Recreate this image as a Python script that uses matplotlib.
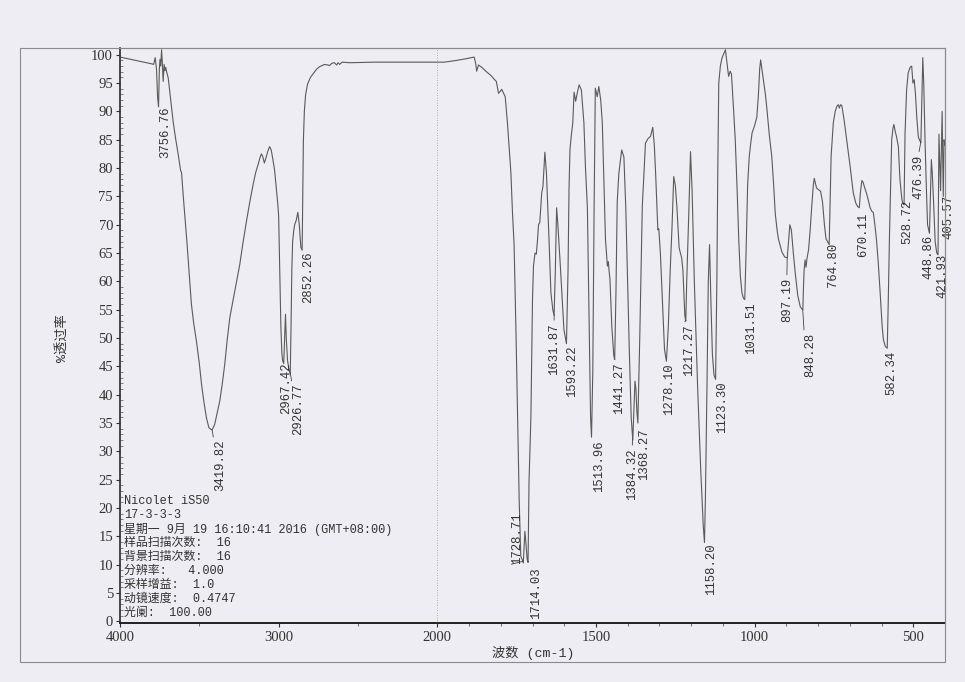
import numpy as np
import matplotlib
matplotlib.use("Agg")
import matplotlib.pyplot as plt
from matplotlib.patches import Rectangle
from matplotlib.ticker import FixedLocator, FixedFormatter

# FT-IR spectrum (Nicolet iS50)
wavenumber = [
    4000, 3950, 3900, 3850, 3800, 3788, 3778, 3770, 3763, 3757, 3752, 3748, 3743, 3738, 3733,
    3728, 3722, 3717, 3712, 3706, 3696, 3680, 3665, 3650, 3633, 3618, 3612, 3602, 3590, 3577,
    3563, 3550, 3535, 3518, 3500, 3486, 3470, 3455, 3440, 3428, 3420, 3410, 3403, 3390, 3371,
    3355, 3340, 3325, 3308, 3292, 3277, 3260, 3245, 3225, 3203, 3182, 3161, 3145, 3130, 3118,
    3109, 3100, 3090, 3080, 3068, 3057, 3047, 3036, 3025, 3015, 3005, 3000, 2993, 2986, 2980,
    2975, 2968, 2962, 2957, 2952, 2944, 2935, 2927, 2922, 2917, 2912, 2905, 2899, 2889, 2879,
    2870, 2860, 2852, 2848, 2844, 2838, 2830, 2818, 2800, 2784, 2760, 2742, 2711, 2690, 2679,
    2665, 2648, 2635, 2625, 2616, 2600, 2550, 2400, 2200, 2000, 1978, 1940, 1910, 1884, 1879,
    1876, 1870, 1860, 1847, 1830, 1821, 1814, 1807, 1801, 1797, 1791, 1786, 1779, 1774, 1768,
    1763, 1758, 1752, 1747, 1742, 1737, 1732, 1729, 1726, 1724, 1721, 1717, 1714, 1711, 1705,
    1700, 1697, 1692, 1688, 1684, 1681, 1677, 1671, 1667, 1661, 1656, 1648, 1642, 1636, 1632,
    1628, 1624, 1620, 1611, 1601, 1593, 1588, 1585, 1582, 1578, 1573, 1569, 1564, 1558, 1553,
    1546, 1538, 1533, 1527, 1521, 1517, 1514, 1510, 1506, 1502, 1496, 1491, 1485, 1480, 1475,
    1470, 1464, 1461, 1459, 1456, 1450, 1444, 1441, 1437, 1433, 1428, 1419, 1412, 1406, 1401,
    1395, 1389, 1384, 1380, 1377, 1374, 1371, 1368, 1362, 1357, 1354, 1348, 1344, 1336, 1328,
    1321, 1316, 1312, 1305, 1302, 1297, 1292, 1284, 1278, 1272, 1266, 1260, 1255, 1250, 1245,
    1238, 1234, 1230, 1226, 1220, 1217, 1214, 1208, 1202, 1197, 1190, 1180, 1170, 1162, 1158,
    1155, 1150, 1146, 1142, 1138, 1133, 1128, 1123, 1119, 1116, 1113, 1108, 1103, 1097, 1092,
    1087, 1082, 1077, 1073, 1067, 1061, 1055, 1050, 1045, 1040, 1035, 1031, 1027, 1022, 1017,
    1012, 1008, 1000, 993, 988, 984, 981, 977, 972, 966, 961, 954, 946, 940, 935,
    929, 925, 914, 905, 900, 897, 893, 889, 884, 878, 872, 864, 856, 852, 848,
    846, 844, 841, 838, 835, 830, 825, 820, 815, 812, 809, 805, 799, 792, 786,
    780, 775, 768, 765, 762, 759, 752, 746, 741, 736, 733, 729, 725, 718, 710,
    699, 689, 681, 675, 670, 667, 662, 658, 653, 647, 642, 636, 631, 626, 621,
    616, 610, 605, 598, 594, 588, 582, 579, 575, 571, 568, 564, 561, 557, 553,
    547, 542, 536, 533, 529, 526, 521, 516, 510, 505, 501, 497, 493, 489, 484,
    479, 476, 473, 470, 467, 463, 459, 455, 449, 446, 443, 440, 436, 431, 426,
    422, 419, 416, 414, 411, 409, 407, 405.5, 403, 400,
]
transmittance = [
    99.6, 99.3, 99.0, 98.7, 98.4, 98.3, 99.5, 97.5, 92.5, 90.8, 97.5, 99.2, 98.0, 100.9, 98.5,
    95.3, 98.3, 97.2, 97.8, 97.0, 95.9, 92.0, 88.2, 85.3, 82.4, 79.6, 79.2, 75.3, 71.0, 66.5,
    61.0, 56.0, 52.5, 49.4, 45.5, 41.8, 38.5, 35.9, 34.2, 33.9, 33.8, 34.3, 34.8, 36.5, 38.9,
    42.0, 45.3, 49.5, 53.6, 56.0, 58.3, 60.8, 63.0, 66.8, 70.6, 74.0, 77.1, 79.2, 80.6, 81.8,
    82.5, 82.0, 80.9, 81.8, 83.0, 83.8, 83.2, 81.5, 79.5, 76.5, 73.5, 71.5, 62.0, 52.0, 47.5,
    46.0, 45.5, 50.0, 54.2, 50.0, 46.0, 44.5, 43.5, 52.0, 62.0, 67.0, 69.0, 70.0, 70.8, 72.2,
    70.0, 66.0, 65.5, 75.0, 85.0, 90.0, 93.0, 94.8, 96.0, 96.6, 97.5, 97.9, 98.3, 98.2, 98.1,
    98.5, 98.6, 98.2, 98.6, 98.3, 98.7, 98.6, 98.7, 98.7, 98.7, 98.7, 99.0, 99.3, 99.6, 98.5,
    97.1, 98.2, 97.8, 97.1, 96.3, 95.7, 95.3, 93.2, 93.6, 93.9, 93.2, 92.6, 88.0, 84.0, 79.1,
    72.0, 66.5, 50.9, 36.2, 21.5, 11.5, 10.8, 10.3, 13.5, 15.9, 14.0, 11.0, 10.4, 24.5, 36.2,
    56.8, 62.7, 65.0, 64.8, 67.5, 70.0, 70.4, 75.6, 76.8, 82.8, 79.1, 67.4, 58.0, 55.0, 54.0,
    62.0, 73.0, 70.0, 61.5, 51.5, 49.0, 62.0, 76.0, 83.2, 85.6, 88.0, 93.4, 91.8, 93.5, 94.7,
    93.8, 88.0, 80.0, 73.0, 50.0, 36.0, 32.5, 44.0, 72.0, 94.1, 92.6, 94.4, 92.0, 88.0, 78.0,
    67.4, 62.7, 63.5, 62.0, 60.5, 52.0, 47.0, 46.2, 58.0, 74.0, 79.0, 83.2, 82.0, 73.0, 61.5,
    48.0, 36.0, 32.0, 38.0, 42.4, 41.0, 37.0, 35.0, 50.0, 65.0, 73.2, 80.0, 84.4, 85.2, 85.6,
    87.2, 84.0, 79.1, 69.1, 69.3, 65.0, 58.6, 48.0, 45.9, 52.0, 62.0, 70.0, 78.5, 77.0, 73.2,
    66.0, 65.0, 64.2, 62.0, 54.0, 53.0, 60.0, 71.0, 82.9, 76.0, 60.0, 42.0, 27.0, 17.0, 13.9,
    22.0, 42.0, 60.0, 66.5, 57.0, 47.0, 43.5, 42.7, 60.0, 80.0, 95.0, 98.0, 99.4, 100.2, 100.9,
    98.5, 96.2, 97.1, 96.6, 91.0, 85.0, 76.0, 67.4, 61.0, 58.0, 57.0, 56.8, 65.0, 77.0, 82.0,
    84.5, 86.2, 87.5, 89.0, 93.0, 97.5, 99.1, 97.5, 95.6, 93.0, 90.3, 86.0, 82.1, 77.0, 72.0,
    69.0, 67.5, 65.2, 64.3, 64.2, 64.2, 67.0, 70.0, 69.0, 65.0, 61.5, 57.5, 55.5, 55.2, 55.0,
    59.0, 62.0, 63.8, 62.5, 64.0, 65.6, 69.0, 73.2, 77.0, 78.2, 77.5, 76.5, 76.2, 75.9, 74.0,
    70.0, 67.5, 66.8, 66.5, 74.0, 82.0, 88.0, 90.0, 90.9, 91.2, 90.6, 91.2, 91.0, 88.5, 85.0,
    80.3, 75.6, 73.8, 73.2, 73.0, 75.5, 77.8, 77.5, 76.5, 75.5, 74.4, 73.0, 72.4, 72.2, 70.0,
    67.4, 63.0, 58.6, 52.0, 49.7, 48.5, 48.2, 56.0, 68.0, 78.0, 85.0, 87.0, 87.7, 86.5, 85.6,
    83.8, 78.0, 74.5, 73.8, 73.5, 86.0, 93.8, 96.8, 97.8, 98.0, 95.0, 95.6, 93.0, 89.0, 85.5,
    84.8, 84.5, 92.0, 99.5, 95.0, 85.0, 77.0, 70.0, 68.5, 75.0, 81.5, 79.0, 74.0, 67.0, 65.0,
    64.7, 86.0, 80.0, 76.0, 84.0, 90.0, 82.0, 75.0, 85.0, 84.0,
]

# peak picks printed under the curve
peak_wn = [3756.76, 3419.82, 2967.42, 2926.77, 2852.26, 1728.71, 1714.03, 1631.87,
           1593.22, 1513.96, 1441.27, 1384.32, 1368.27, 1278.10, 1217.27, 1158.20,
           1123.30, 1031.51, 897.19, 848.28, 764.80, 670.11, 582.34, 528.72,
           476.39, 448.86, 421.93, 405.57]

# instrument info block, lower left corner of the print
info_lines = [
    "Nicolet iS50",
    "17-3-3-3",
    "星期一 9月 19 16:10:41 2016 (GMT+08:00)",
    "样品扫描次数:  16",
    "背景扫描次数:  16",
    "分辨率:   4.000",
    "采样增益:  1.0",
    "动镜速度:  0.4747",
    "光阑:  100.00",
]

x_ticks = [4000, 3000, 2000, 1500, 1000, 500]
y_ticks = list(range(0, 101, 5))
x_label = "波数 (cm-1)"
y_label = "%透过率"


# Nicolet style x axis: 2000-400 is drawn at twice the scale of 4000-2000
def fwd(x):
    x = np.asarray(x, dtype=float)
    return np.where(x >= 2000, x, 2 * x - 2000)


def inv(u):
    u = np.asarray(u, dtype=float)
    return np.where(u >= 2000, u, (u + 2000) / 2)


paper = "#ededf3"
ink = "#5a5a5a"
mono = ["Liberation Mono", "Noto Sans CJK SC"]
serif = "Liberation Serif"
W, H = 965, 682

fig = plt.figure(figsize=(W / 100, H / 100), dpi=100)
fig.patch.set_facecolor(paper)

# axes box in pixels of the print: x 120..945, y 48..623
ax = fig.add_axes([120 / W, 1 - 623 / H, 825 / W, 575 / H])
ax.set_facecolor(paper)
ax.set_xscale("function", functions=(fwd, inv))
ax.set_xlim(4000, 400)
ax.set_ylim(-0.3, 101.2)

ax.plot(wavenumber, transmittance, color=ink, lw=0.8)
ax.axvline(2000, color="#9a9a9a", lw=0.6, ls=(0, (1, 2)))

# ticks
ax.xaxis.set_major_locator(FixedLocator(x_ticks))
ax.xaxis.set_major_formatter(FixedFormatter([str(t) for t in x_ticks]))
minor_x = [3500, 2500] + [v for v in range(1900, 400, -100) if v not in x_ticks]
ax.xaxis.set_minor_locator(FixedLocator(minor_x))
ax.yaxis.set_major_locator(FixedLocator(y_ticks))
ax.yaxis.set_major_formatter(FixedFormatter([str(t) for t in y_ticks]))
ax.yaxis.set_minor_locator(FixedLocator([v for v in range(0, 101) if v % 5]))

ax.tick_params(axis="both", which="major", direction="out", length=3, width=0.8,
               color="#333333", labelsize=10.5, labelcolor="#333333")
ax.tick_params(axis="x", which="major", pad=3)
ax.tick_params(axis="y", which="major", pad=2)
ax.tick_params(axis="x", which="minor", direction="out", length=2, width=0.6, color="#555555")
ax.tick_params(axis="y", which="minor", direction="in", length=2, width=0.5, color="#555555")
for lab in ax.get_xticklabels() + ax.get_yticklabels():
    lab.set_fontfamily(serif)

ax.spines["left"].set_color("#2a2a2a")
ax.spines["left"].set_linewidth(1.2)
ax.spines["bottom"].set_color("#222222")
ax.spines["bottom"].set_linewidth(1.4)
for side in ["top", "right"]:
    ax.spines[side].set_color("#8a8a8a")
    ax.spines[side].set_linewidth(0.8)

# outer frame of the print
fig.patches.append(Rectangle((20 / W, 1 - 662 / H), 925 / W, 614 / H, transform=fig.transFigure,
                             fill=False, ec="#8a8a8a", lw=0.8, zorder=0))

# peak labels: offset of the label (px right, px down) from the minimum, leader yes/no
label_layout = {
    3756.76: (6.4, 1, False), 3419.82: (7.8, 10, True), 2967.42: (2.5, 1, False),
    2926.77: (7.7, 11, True), 2852.26: (5.8, 1, False), 1714.03: (7.8, 5, False),
    1631.87: (0, 9, True), 1593.22: (5.9, 2.5, False), 1513.96: (7.4, 4, False),
    1441.27: (4.3, 3, False), 1384.32: (-0.5, 9.4, True), 1368.27: (6.1, 6.4, False),
    1278.10: (2.4, 2, False), 1217.27: (3.1, 4, True), 1158.20: (7, 2, False),
    1123.30: (6.5, 2, False), 1031.51: (6.7, 3, False), 897.19: (-0.4, 20, True),
    848.28: (7.4, 23, True), 764.80: (4.2, 1, False), 670.11: (4.1, 5, False),
    582.34: (4.5, 3, False), 528.72: (3.1, 1, False), 476.39: (-2.2, 12, True),
    448.86: (-0.9, 3, True), 421.93: (4, 2, False), 405.57: (5, 0, False),
}
wn_asc = np.array(wavenumber)[::-1]
t_asc = np.array(transmittance)[::-1]
peak_t = np.interp(peak_wn, wn_asc, t_asc)
px2pt = 72 / 100

for wn, t in zip(peak_wn, peak_t):
    txt = f"{wn:.2f}"
    if wn == 1728.71:
        # crowded by 1714.03: printed above and to the left of the minimum
        ax.annotate(txt, xy=(wn, t), xytext=(-6 * px2pt, -3 * px2pt), textcoords="offset points",
                    rotation=90, ha="center", va="bottom", fontsize=8.8, family=mono,
                    color="#333333", annotation_clip=False,
                    arrowprops=dict(arrowstyle="-", lw=0.6, color="#444444", relpos=(0, 0),
                                    shrinkA=0, shrinkB=0))
        continue
    dx, dy, leader = label_layout[wn]
    arrow = None
    if leader:
        arrow = dict(arrowstyle="-", lw=0.6, color="#444444", relpos=(0.5, 1) if dx < 2 else (0, 1),
                     shrinkA=0, shrinkB=0)
    ax.annotate(txt, xy=(wn, t), xytext=(dx * px2pt, -dy * px2pt), textcoords="offset points",
                rotation=90, ha="center", va="top", fontsize=8.8, family=mono,
                color="#333333", annotation_clip=False, arrowprops=arrow)

# info block
info_tr = ax.get_yaxis_transform()
for i, line in enumerate(info_lines):
    ax.text(0.005, 21.2 - 2.47 * i, line, transform=info_tr, ha="left", va="center",
            fontsize=8.6, family=mono, color="#333333")

# axis titles
fig.text(533 / W, 1 - 653 / H, x_label, ha="center", va="center", fontsize=9.5,
         family=mono, color="#333333")
fig.text(62 / W, 1 - 338 / H, y_label, ha="center", va="center", rotation=90, fontsize=9.5,
         family=mono, color="#333333")

fig.savefig("out.png", dpi=100, facecolor=paper)
